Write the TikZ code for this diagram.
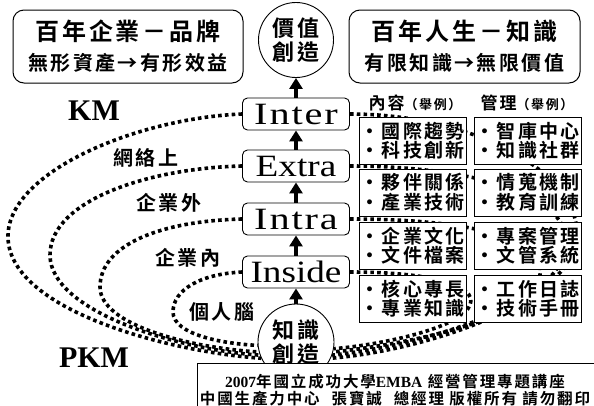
\documentclass[tikz,border=0pt]{standalone}
\usepackage{fontspec}
\setmainfont{Liberation Serif}
\newfontfamily\cjk{Noto Sans CJK TC}[LetterSpace=12,BoldFont={Noto Sans CJK TC Bold}]
\newfontfamily\lvlfont{Liberation Serif}[FakeStretch=1.2]
\newfontfamily\lvlwide{Liberation Serif}[FakeStretch=1.3,LetterSpace=6]
\usetikzlibrary{arrows.meta,backgrounds}

\begin{document}
\begin{tikzpicture}[
  x=1pt, y=-1pt,
  headbox/.style={draw, fill=white, rounded corners=11pt, line width=1pt,
    minimum width=230pt, minimum height=73pt, align=center,
    font=\cjk\bfseries\fontsize{24}{30}\selectfont},
  levelbox/.style={draw, fill=white, rounded corners=5pt, line width=0.9pt,
    minimum width=107pt, minimum height=32pt, inner sep=0pt,
    font=\lvlfont\fontsize{31}{31}\selectfont},
  bubble/.style={draw, fill=white, circle, line width=0.9pt, inner sep=0pt,
    minimum size=75pt, align=center, font=\cjk\bfseries\fontsize{22}{24}\selectfont},
  itembox/.style={draw, fill=white, line width=1pt, minimum width=107pt,
    minimum height=47pt, inner sep=0pt, align=left,
    font=\cjk\bfseries\fontsize{19}{19.5}\selectfont},
  colhead/.style={font=\cjk\bfseries\fontsize{17}{17}\selectfont},
  scopelabel/.style={font=\cjk\bfseries\fontsize{20}{20}\selectfont},
  kmlabel/.style={font=\bfseries\fontsize{30}{30}\selectfont},
  flow/.style={line width=3.4pt, -{Triangle[width=13pt,length=11pt]}},
  loopline/.style={line width=3.6pt, dash pattern=on 3.6pt off 3.2pt}
]
\useasboundingbox (0,0) rectangle (594,405);

% ---------------- Top row ----------------
\node[headbox] (brand) at (128,46.5) {百年企業－品牌\\{\fontsize{20}{30}\selectfont 無形資產→有形效益}};
\node[headbox, minimum width=231pt] (life) at (464.5,46.5) {百年人生－知識\\{\fontsize{20}{30}\selectfont 有限知識→無限價值}};
\node[bubble] (value) at (296,40) {價值\\創造};

% ---------------- Level stack ----------------
\node[levelbox] (inter) at (296,114) {\lvlwide Inter};
\node[levelbox] (extra) at (296,166) {Extra};
\node[levelbox] (intra) at (296,219) {\lvlwide Intra};
\node[levelbox] (inside) at (296,272) {Inside};
\node[bubble, minimum size=76pt] (know) at (296,342) {知識\\創造};

\draw[flow] (inter.north) -- (value.south);
\draw[flow] (extra.north) -- (inter.south);
\draw[flow] (intra.north) -- (extra.south);
\draw[flow] (inside.north) -- (intra.south);
\draw[flow] (know.north) -- (inside.south);

% ---------------- Examples table ----------------
\node[colhead] (contenthead) at (415,103) {內容{\fontsize{13}{13}\selectfont （舉例）}};
\node[colhead] (managehead) at (527,103) {管理{\fontsize{13}{13}\selectfont （舉例）}};

\node[itembox] (trend) at (412.5,140.5) {•國際趨勢\\•科技創新};
\node[itembox] (think) at (527.5,140.5) {•智庫中心\\•知識社群};
\node[itembox] (partner) at (412.5,192.5) {•夥伴關係\\•產業技術};
\node[itembox] (intel) at (527.5,192.5) {•情蒐機制\\•教育訓練};
\node[itembox] (culture) at (412.5,245.5) {•企業文化\\•文件檔案};
\node[itembox] (project) at (527.5,245.5) {•專案管理\\•文管系統};
\node[itembox] (core) at (412.5,298.5) {•核心專長\\•專業知識};
\node[itembox] (journal) at (527.5,298.5) {•工作日誌\\•技術手冊};

% ---------------- Side labels ----------------
\node[kmlabel] (km) at (94,111) {KM};
\node[kmlabel] (pkm) at (94,358) {PKM};
\node[scopelabel] (web) at (146,158) {網絡上};
\node[scopelabel] (outside) at (169,203) {企業外};
\node[scopelabel] (within) at (188,258) {企業內};
\node[scopelabel] (brain) at (222,312) {個人腦};

% ---------------- Knowledge loops (behind the boxes) ----------------
\begin{scope}[on background layer]
  \draw[loopline] (inter.west) .. controls (140,118) and (10,170) .. (8,235)
    .. controls (6,310) and (170,352) .. (know.205);
  \draw[loopline] (inter.east) .. controls (470,114) and (578,170) .. (577,235)
    .. controls (576,300) and (430,350) .. (know.335);
  \draw[loopline] (extra.west) .. controls (150,168) and (50,200) .. (50,255)
    .. controls (50,312) and (180,350) .. (know.200);
  \draw[loopline] (extra.east) .. controls (460,166) and (570,190) .. (566,245)
    .. controls (562,305) and (420,346) .. (know.340);
  \draw[loopline] (intra.west) .. controls (160,221) and (100,245) .. (100,287)
    .. controls (100,325) and (190,348) .. (know.195);
  \draw[loopline] (intra.east) .. controls (460,219) and (545,235) .. (540,275)
    .. controls (535,318) and (410,344) .. (know.345);
  \draw[loopline] (inside.west) .. controls (200,274) and (173,290) .. (173,312)
    .. controls (173,335) and (225,344) .. (know.185);
  \draw[loopline] (inside.east) .. controls (430,272) and (478,285) .. (470,305)
    .. controls (462,328) and (380,345) .. (know.350);
\end{scope}

% ---------------- Credit ----------------
\draw[fill=white, line width=0.9pt] (600,363) -| (197,410);
\node[font=\cjk\bfseries\fontsize{15.5}{17}\selectfont, align=center] (credit) at (395,390)
  {{\rmfamily 2007}年國立成功大學{\rmfamily EMBA} 經營管理專題講座\\中國生產力中心\hspace{12pt}張寶誠\hspace{12pt}總經理 版權所有 請勿翻印};

\end{tikzpicture}
\end{document}
